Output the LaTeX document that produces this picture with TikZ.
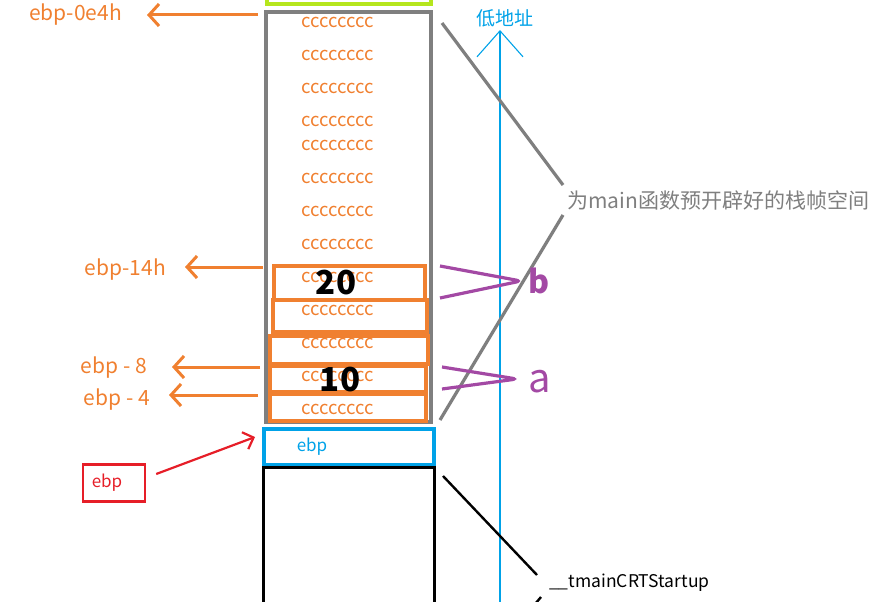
\documentclass[tikz,border=0pt]{standalone}
\usepackage{fontspec}
\setmainfont{Noto Sans CJK SC}
\usepackage{tikz}
\usetikzlibrary{arrows.meta, calc, positioning}
\definecolor{stkorange}{RGB}{240,128,48}
\definecolor{stkgray}{RGB}{127,127,127}
\definecolor{stkgreen}{RGB}{181,230,29}
\definecolor{stkblue}{RGB}{0,162,232}
\definecolor{stkred}{RGB}{230,30,40}
\definecolor{stkpurple}{RGB}{163,73,164}

\begin{document}
\begin{tikzpicture}[
    cell/.style={font=\fontsize{18.5}{18.5}\selectfont,text=stkorange,inner sep=0pt},
    slot/.style={draw=stkorange,line width=3.2pt},
    offs/.style={font=\fontsize{21}{21}\selectfont,text=stkorange,inner sep=0pt,anchor=east},
    oarrow/.style={stkorange,line width=3pt,-{Straight Barb[length=10pt,width=22pt]}},
    big/.style={font=\bfseries\fontsize{33}{33}\selectfont,inner sep=0pt},
    brace/.style={stkpurple,line width=3.2pt,rounded corners=5pt}]
\begin{scope}[x=1pt,y=-1pt]
    \useasboundingbox (0,0) rectangle (881,602);
    \clip (0,0) rectangle (881,602);

    %
    \draw[stkgreen,line width=3.2pt] (267,-10) rectangle (431,4);
    \draw[stkgray,line width=3.2pt] (266,12) rectangle (431,422);
    \foreach \y [count=\i] in {22,55,88,121,145,178,211,244,277,310,343,376,409}
        \node[cell] (c\i) at (338,\y) {cccccccc};

    %
    \draw[slot] (274,266) rectangle (425,300);
    \draw[slot] (273,300) rectangle (427,332);
    \draw[slot] (270,336) rectangle (428,364);
    \draw[slot] (270,366) rectangle (426,392);
    \draw[slot] (270,394) rectangle (426,421);
    \node[big] (vb) at (336,283) {20};
    \node[big] (va) at (340,380) {10};

    %
    \node[offs] (e0) at (122,15) {ebp-0e4h};
    \node[offs] (e14) at (166,270) {ebp-14h};
    \node[offs] (e8) at (147,368) {ebp - 8};
    \node[offs] (e4) at (150,400) {ebp - 4};
    \coordinate (s0) at (258,15);
    \coordinate (s14) at (263,267);
    \coordinate (s8) at (260,367);
    \coordinate (s4) at (258,395);
    \draw[oarrow,shorten >=25pt] (s0) -- (e0.east |- s0);
    \draw[oarrow,shorten >=19pt] (s14) -- (e14.east |- s14);
    \draw[oarrow,shorten >=25pt] (s8) -- (e8.east |- s8);
    \draw[oarrow,shorten >=19pt] (s4) -- (e4.east |- s4);

    %
    \draw[stkblue,line width=3.2pt] (264,429) rectangle (434,465);
    \node[text=stkblue,font=\fontsize{17}{17}\selectfont,inner sep=0pt] (ebpcell) at (312,447) {ebp};
    \draw[black,line width=3pt] (263,467) rectangle (434,615);

    %
    \node[draw=stkred,line width=2.4pt,text=stkred,font=\fontsize{17}{17}\selectfont,
          minimum width=62pt,minimum height=37pt,inner sep=0pt] (reg) at (114,483) {\hspace*{-14pt}ebp};
    \coordinate (ebptip) at (255,437);
    \draw[stkred,line width=2.2pt,-{Straight Barb[length=9pt,width=18pt]}] ($(reg.east)+(10,-9)$) -- (ebptip);

    %
    \draw[stkblue,line width=1.1pt,-{Straight Barb[length=26pt,width=46pt]}] (500,615) -- (500,30);
    \node[text=stkblue,font=\fontsize{19}{19}\selectfont,inner sep=0pt] (low) at (505,18) {低地址};

    %
    \node[text=stkgray,font=\fontsize{21}{21}\selectfont,inner sep=0pt,anchor=west] (frame) at (567,200) {为main函数预开辟好的栈帧空间};
    \draw[stkgray,line width=3.2pt] (442,23) -- (563,185);
    \draw[stkgray,line width=3.2pt] (563,215) -- (440,420);

    %
    \draw[brace] (440,266) -- (521,281) -- (440,298);
    \node[text=stkpurple,font=\bfseries\fontsize{32}{32}\selectfont,inner sep=0pt] (lb) at (539,281) {b};
    \draw[brace] (442,367) -- (517,379) -- (442,389);
    \node[text=stkpurple,font=\fontsize{40}{40}\selectfont,inner sep=0pt] (la) at (540,382) {a};

    %
    \node[font=\fontsize{17.5}{17.5}\selectfont,inner sep=0pt,anchor=west] (crt) at (549,583) {\_\_tmainCRTStartup};
    \draw[black,line width=2.4pt] (443,476) -- (537,575);
    \draw[black,line width=2.4pt] (541,597) -- (530,610);
\end{scope}
\end{tikzpicture}
\end{document}
